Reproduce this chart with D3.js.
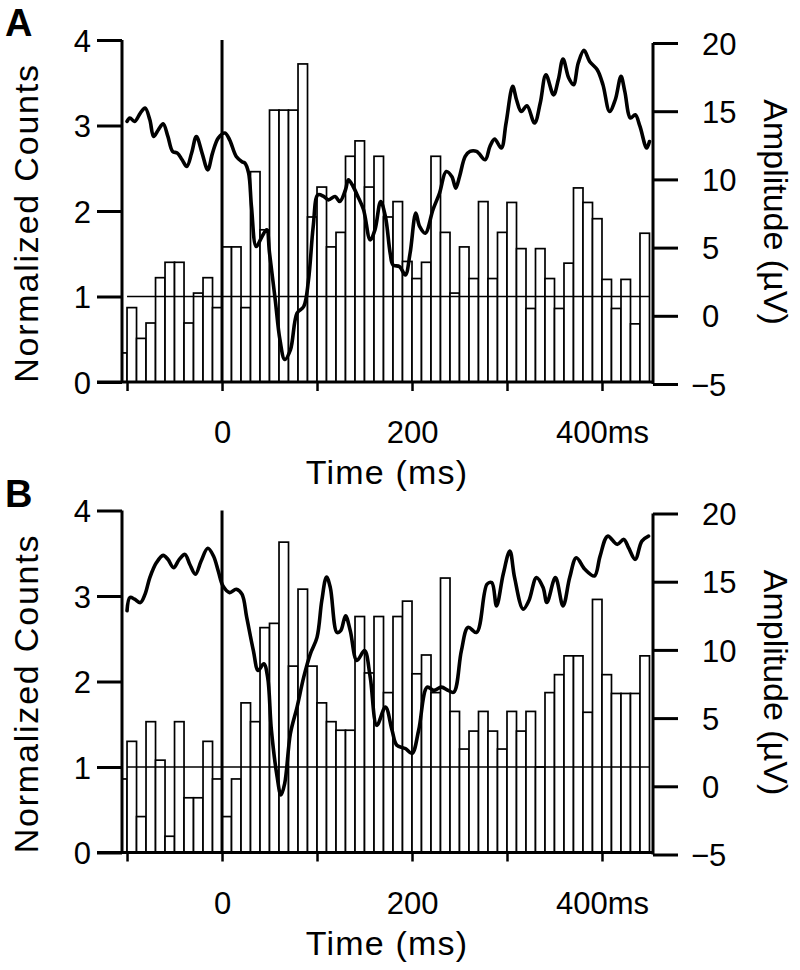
<!DOCTYPE html>
<html><head><meta charset="utf-8">
<script src="https://cdn.jsdelivr.net/npm/d3@7/dist/d3.min.js"></script>
<style>body{margin:0;background:#fff}svg{display:block}text{font-family:"Liberation Sans",Arial,Helvetica,sans-serif;fill:#000}</style>
</head><body><svg id="c" width="800" height="970"></svg>
<script>
// ---- data ----
const binStarts = [-110,-100,-90,-80,-70,-60,-50,-40,-30,-20,-10,0,10,20,30,40,50,60,70,80,90,100,110,120,130,140,150,160,170,180,190,200,210,220,230,240,250,260,270,280,290,300,310,320,330,340,350,360,370,380,390,400,410,420,430,440];
const countsA = [0.34,0.87,0.51,0.69,1.22,1.40,1.40,0.69,1.04,1.22,0.87,1.58,1.58,0.87,2.46,1.78,3.18,3.18,3.18,3.72,1.93,2.28,1.58,1.75,2.64,2.82,2.28,2.64,1.93,2.11,1.41,1.21,1.40,2.64,1.75,1.04,1.58,1.21,2.11,1.21,1.75,2.10,1.56,0.86,1.56,1.21,0.86,1.39,2.27,2.10,1.91,1.20,0.86,1.20,0.68,1.74];
const countsB = [0.86,1.30,0.42,1.53,1.08,0.19,1.53,0.64,0.64,1.30,0.86,0.42,0.86,1.75,1.53,2.63,2.68,3.63,2.18,3.08,2.18,1.75,1.53,1.43,1.43,2.76,2.10,2.76,1.87,2.76,2.94,2.09,2.31,1.87,3.21,1.65,1.21,1.42,1.65,1.42,1.21,1.65,1.42,1.65,1.00,1.87,2.08,2.30,2.30,1.64,2.96,2.08,1.86,1.86,1.86,2.30];
const traceA = [[-100,14.25],[-97,14.5],[-92,14.25],[-86,14.86],[-81,15.23],[-76,14.37],[-72,13.15],[-67,13.64],[-62,14.08],[-57,13.15],[-52,12.05],[-47,11.93],[-42,11.44],[-37,10.95],[-32,11.93],[-27,13.15],[-21,11.93],[-15,10.7],[-10,11.93],[-4,13.03],[3,13.4],[8,12.9],[15,11.68],[21,11.3],[24,11.2],[28,10.46],[31,8.0],[36,5.08],[42,5.8],[47,6.3],[50,4.6],[56,1.17],[61,-1.77],[66,-3.2],[72,-2.5],[79,0.2],[86,0.68],[91,2.6],[96,6.55],[101,8.87],[107,8.75],[112,8.5],[119,8.75],[124,8.38],[130,9.24],[133,9.97],[138,9.48],[143,8.75],[149,7.77],[156,5.57],[161,6.3],[167,8.38],[172,7.28],[177,4.6],[180,3.73],[187,3.6],[193,3.0],[198,4.6],[204,7.53],[208,6.55],[214,6.06],[222,7.77],[229,9.0],[236,10.58],[242,10.2],[246,9.36],[250,10.2],[256,11.68],[261,12.05],[268,12.05],[277,11.44],[282,12.41],[287,12.95],[294,12.3],[299,14.13],[306,16.82],[310,15.84],[315,14.98],[321,15.4],[329,14.13],[335,15.6],[341,17.67],[349,16.2],[354,17.3],[359,18.83],[365,17.43],[370,16.94],[375,18.53],[381,19.46],[387,18.65],[395,18.04],[401,16.94],[408,14.98],[414,15.84],[420,17.55],[424,16.45],[430,14.5],[435,14.74],[440,13.88],[447,12.3],[450,12.78]];
const traceB = [[-100,12.87],[-97,13.84],[-92,13.72],[-86,13.47],[-81,14.09],[-76,15.3],[-69,16.4],[-62,16.93],[-57,16.64],[-51,16.03],[-45,16.64],[-39,17.0],[-34,16.28],[-28,15.55],[-22,16.52],[-15,17.45],[-9,16.88],[-4,15.79],[1,14.69],[8,14.2],[15,14.45],[21,14.09],[26,12.38],[33,9.95],[38,8.49],[44,8.98],[48,8.0],[52,4.11],[58,0.7],[62,-0.64],[66,0.22],[72,3.87],[79,5.81],[86,8.0],[93,9.71],[100,10.92],[105,13.6],[110,15.35],[114,14.57],[121,11.28],[125,11.41],[130,12.5],[135,11.41],[142,9.22],[150,9.95],[156,8.0],[163,4.47],[172,5.81],[179,4.11],[184,3.01],[193,2.77],[200,2.41],[207,4.11],[216,7.27],[223,7.03],[231,7.27],[238,7.03],[244,6.9],[252,9.95],[259,11.65],[268,11.28],[279,14.82],[284,14.93],[289,13.23],[296,15.55],[303,17.25],[308,15.3],[317,12.99],[323,13.6],[331,15.3],[338,14.57],[342,13.47],[351,15.3],[359,13.23],[366,15.3],[373,16.76],[382,15.91],[392,15.42],[398,16.88],[406,18.34],[416,17.74],[423,18.1],[428,17.49],[435,16.64],[442,17.98],[449,18.34]];
const countTicks = [0,1,2,3,4];
const ampTicks = [-5,0,5,10,15,20];
const timeTicks = [-100,0,100,200,300,400];
const timeLabels = {0:"0",200:"200",400:"400ms"};
const binWidth = 10;
const refLevel = 1;
const panels = [
  {letter:"A", counts:countsA, trace:traceA, top:0},
  {letter:"B", counts:countsB, trace:traceB, top:470.5}
];

const svg = d3.select("#c");
const x = d3.scaleLinear().domain([-105.3, 453.7]).range([122, 653]);
const TICK_FS = 31, TITLE_FS = 34;

panels.forEach(p => {
  const g = svg.append("g").attr("transform", `translate(0,${p.top})`);
  const y = d3.scaleLinear().domain([0,4]).range([382,40]);
  const yR = d3.scaleLinear().domain([-5,20]).range([384,43]);

  // bars
  g.append("g").selectAll("rect").data(binStarts.map((b,i)=>({b, v:p.counts[i]})))
    .join("rect")
    .attr("x", d => x(Math.max(d.b, x.domain()[0])))
    .attr("width", d => x(d.b+binWidth) - x(Math.max(d.b, x.domain()[0])))
    .attr("y", d => y(d.v))
    .attr("height", d => y(0)-y(d.v))
    .attr("fill","#fff").attr("stroke","#000").attr("stroke-width",1.7);

  // reference line at 1
  g.append("line").attr("x1", x(-100)).attr("x2", x(450)).attr("y1", y(refLevel)).attr("y2", y(refLevel))
    .attr("stroke","#000").attr("stroke-width",1.5);

  // zero line
  g.append("line").attr("x1", x(0)).attr("x2", x(0)).attr("y1", y(4)).attr("y2", y(0))
    .attr("stroke","#000").attr("stroke-width",3);

  // trace
  const line = d3.line().x(d=>x(d[0])).y(d=>yR(d[1])).curve(d3.curveCatmullRom.alpha(0.5));
  g.append("path").attr("d", line(p.trace)).attr("fill","none").attr("stroke","#000")
    .attr("stroke-width",3.6).attr("stroke-linejoin","round").attr("stroke-linecap","round");

  // left axis
  const la = g.append("g").attr("transform","translate(122,0)")
    .call(d3.axisLeft(y).tickValues(countTicks).tickSize(25).tickPadding(6).tickFormat(d3.format("d")));
  la.select(".domain").attr("stroke-width",3).attr("d", `M0,${y(4)}V${y(0)}`);
  la.selectAll(".tick line").attr("stroke-width",3);
  la.selectAll("text").attr("font-size",TICK_FS).attr("dy","0.36em");

  // right axis
  const ra = g.append("g").attr("transform","translate(653,0)")
    .call(d3.axisRight(yR).tickValues(ampTicks).tickSize(25).tickPadding(23).tickFormat(d3.format("d")));
  ra.select(".domain").attr("stroke-width",3).attr("d", `M0,${yR(20)}V${yR(-5)}`);
  ra.selectAll(".tick line").attr("stroke-width",3);
  ra.selectAll("text").attr("font-size",TICK_FS).attr("dy","0.36em")
    .attr("x", d => d < 0 ? 38 : 49);

  // bottom axis
  const ba = g.append("g").attr("transform",`translate(0,${y(0)})`)
    .call(d3.axisBottom(x).tickValues(timeTicks).tickSize(9).tickPadding(41).tickFormat(d => timeLabels[d] || ""));
  ba.select(".domain").attr("stroke-width",3).attr("d", `M97,0H${x.range()[1]+1}`);
  ba.selectAll(".tick line").attr("stroke-width",2.5);
  ba.selectAll("text").attr("font-size",TICK_FS).attr("dy","0.36em");

  // titles
  g.append("text").attr("x", 387).attr("y", 484).attr("text-anchor","middle").attr("font-size",TITLE_FS)
    .attr("letter-spacing",1.2).text("Time (ms)");
  g.append("text").attr("transform", `translate(38,${223}) rotate(-90)`).attr("text-anchor","middle").attr("font-size",TITLE_FS)
    .attr("letter-spacing",1.8).text("Normalized Counts");
  g.append("text").attr("transform", `translate(764,${212}) rotate(90)`).attr("text-anchor","middle").attr("font-size",TITLE_FS).text("Amplitude (µV)");
  g.append("text").attr("x", 5).attr("y", 36).attr("font-size",38).attr("font-weight","bold").text(p.letter);
});
</script></body></html>
